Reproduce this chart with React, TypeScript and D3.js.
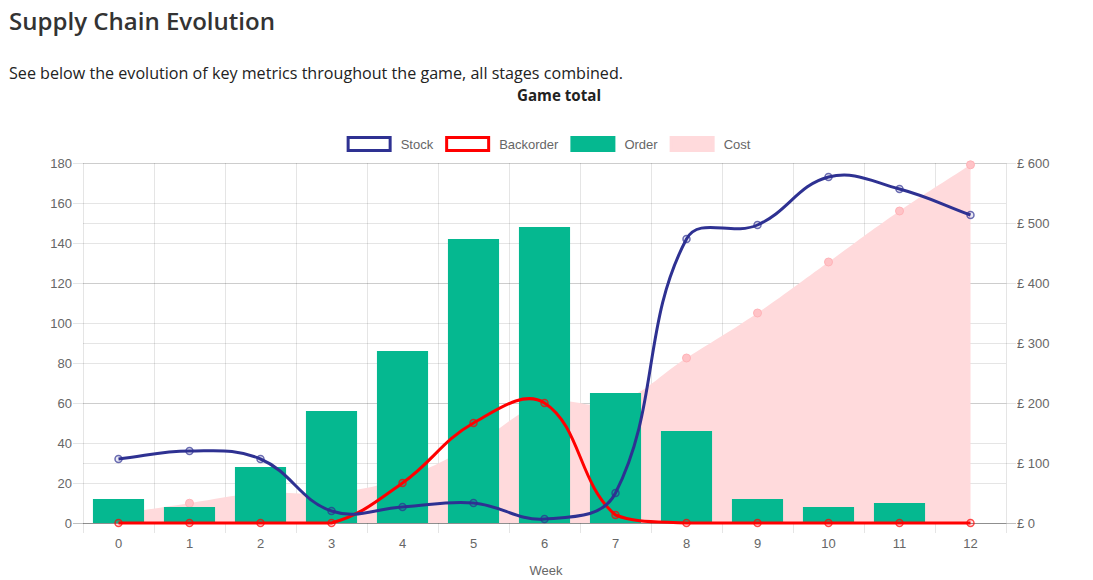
import React from "react";
import * as d3 from "d3";

const weeks = [0, 1, 2, 3, 4, 5, 6, 7, 8, 9, 10, 11, 12];
const stock = [32, 36, 32, 6, 8, 10, 2, 15, 142, 149, 173, 167, 154];
const backorder = [0, 0, 0, 0, 20, 50, 60, 4, 0, 0, 0, 0, 0];
const orders = [12, 8, 28, 56, 86, 142, 148, 65, 46, 12, 8, 10, 0];
const cost = [15, 33, 50, 50, 75, 130, 200, 200, 275, 350, 435, 520, 597];
const leftTicks = [0, 20, 40, 60, 80, 100, 120, 140, 160, 180];
const rightTicks = [0, 100, 200, 300, 400, 500, 600];
const legendItems = ["Stock", "Backorder", "Order", "Cost"];

const W = 1093;
const H = 580;
const area = { left: 83, right: 1006, top: 163, bottom: 523 };
const CHART_FONT = "'Liberation Sans', Arial, sans-serif";
const PAGE_FONT = "'Open Sans', 'Noto Sans', sans-serif";
const FS = 13;

const STOCK_C = "#2e3192";
const BACK_C = "#ff0000";
const ORDER_C = "#05b890";
const COST_C = "#ffdadc";
const COST_PT = "#ffc3c7";

type P = { x: number; y: number };

// Chart.js-like bezier spline with tension 0.4 and capped control points
function splinePath(pts: P[], t = 0.4): string {
  const n = pts.length;
  const cps = pts.map((cur, i) => {
    const prev = i === 0 ? cur : pts[i - 1];
    const next = i === n - 1 ? cur : pts[i + 1];
    const d01 = Math.hypot(cur.x - prev.x, cur.y - prev.y);
    const d12 = Math.hypot(next.x - cur.x, next.y - cur.y);
    let s01 = d01 / (d01 + d12);
    let s12 = d12 / (d01 + d12);
    if (isNaN(s01)) s01 = 0;
    if (isNaN(s12)) s12 = 0;
    const fa = t * s01;
    const fb = t * s12;
    const cap = (p: P) => ({
      x: Math.max(area.left, Math.min(area.right, p.x)),
      y: Math.max(area.top, Math.min(area.bottom, p.y)),
    });
    return {
      prev: cap({ x: cur.x - fa * (next.x - prev.x), y: cur.y - fa * (next.y - prev.y) }),
      next: cap({ x: cur.x + fb * (next.x - prev.x), y: cur.y + fb * (next.y - prev.y) }),
    };
  });
  const path = d3.path();
  path.moveTo(pts[0].x, pts[0].y);
  for (let i = 1; i < n; i++) {
    const a = cps[i - 1].next;
    const b = cps[i].prev;
    path.bezierCurveTo(a.x, a.y, b.x, b.y, pts[i].x, pts[i].y);
  }
  return path.toString();
}

function measure(text: string, font: string): number {
  if (typeof document === "undefined") return text.length * 7;
  const c = document.createElement("canvas");
  const ctx = c.getContext("2d");
  if (!ctx) return text.length * 7;
  ctx.font = font;
  return ctx.measureText(text).width;
}

export default function App() {
  const x = d3.scaleBand<number>().domain(weeks).range([area.left, area.right]).paddingInner(0).paddingOuter(0);
  const bw = x.bandwidth();
  const cx = (w: number) => (x(w) as number) + bw / 2;
  const yL = d3.scaleLinear().domain([0, 180]).range([area.bottom, area.top]);
  const yR = d3.scaleLinear().domain([0, 600]).range([area.bottom, area.top]);
  const px = (v: number) => Math.round(v) + 0.5;

  const stockPts = weeks.map((w, i) => ({ x: cx(w), y: yL(stock[i]) }));
  const backPts = weeks.map((w, i) => ({ x: cx(w), y: yL(backorder[i]) }));
  const costPts = weeks.map((w, i) => ({ x: cx(w), y: yR(cost[i]) }));
  const costLine = splinePath(costPts);
  const costArea =
    costLine +
    `L${costPts[costPts.length - 1].x},${yR(0)}L${costPts[0].x},${yR(0)}Z`;

  const barW = bw * 0.72;

  // legend layout
  const legendFont = `${FS}px ${CHART_FONT}`;
  const boxW = 45;
  const boxH = 13;
  const textGap = 9;
  const widths = legendItems.map((t) => boxW + textGap + measure(t, legendFont));
  const gap = 12;
  const totalW = widths.reduce((a, b) => a + b, 0) + gap * (legendItems.length - 1);
  let lx = 548.5 - totalW / 2;
  const legendX: number[] = [];
  widths.forEach((w) => {
    legendX.push(lx);
    lx += w + gap;
  });
  const legendY = 144;
  const legendStyles = [
    { fill: "#ffffff", stroke: STOCK_C },
    { fill: "#ffffff", stroke: BACK_C },
    { fill: ORDER_C, stroke: ORDER_C },
    { fill: COST_C, stroke: COST_C },
  ];

  const grid = "rgba(0,0,0,0.1)";
  const catLines = d3.range(weeks.length + 1).map((k) => area.left + k * bw);

  return (
    <svg
      width={W}
      height={H}
      style={{ position: "absolute", left: 0, top: 0, background: "#fff" }}
    >
      <text x={9} y={30} fontFamily={PAGE_FONT} fontSize={24} fontWeight={600} fill="#333" textLength={266} lengthAdjust="spacingAndGlyphs">
        Supply Chain Evolution
      </text>
      <text x={9} y={79} fontFamily={PAGE_FONT} fontSize={16} fill="#222" textLength={614} lengthAdjust="spacingAndGlyphs">
        See below the evolution of key metrics throughout the game, all stages combined.
      </text>
      <text x={559} y={101} fontFamily={PAGE_FONT} fontSize={16} fontWeight={700} fill="#222" textAnchor="middle" textLength={84} lengthAdjust="spacingAndGlyphs">
        Game total
      </text>

      {/* legend */}
      {legendItems.map((t, i) => (
        <g key={t}>
          <rect
            x={legendX[i] + 1.5}
            y={legendY - boxH / 2}
            width={boxW - 3}
            height={boxH}
            fill={legendStyles[i].fill}
            stroke={legendStyles[i].stroke}
            strokeWidth={3}
          />
          <text x={legendX[i] + boxW + textGap} y={legendY + 4.5} fontFamily={CHART_FONT} fontSize={FS} fill="#666">
            {t}
          </text>
        </g>
      ))}

      {/* vertical grid lines */}
      {catLines.map((lxv, i) => (
        <line key={"v" + i} x1={px(lxv)} x2={px(lxv)} y1={area.top} y2={area.bottom + 10} stroke={grid} strokeWidth={1} />
      ))}
      {/* left axis grid */}
      {leftTicks.map((v) => (
        <line
          key={"l" + v}
          x1={area.left - 10}
          x2={area.right}
          y1={px(yL(v))}
          y2={px(yL(v))}
          stroke={v === 0 ? "rgba(0,0,0,0.25)" : grid}
          strokeWidth={1}
        />
      ))}
      {/* right axis grid */}
      {rightTicks.map((v) => (
        <line
          key={"r" + v}
          x1={area.left}
          x2={area.right + 10}
          y1={px(yR(v))}
          y2={px(yR(v))}
          stroke={v === 0 ? "rgba(0,0,0,0.25)" : grid}
          strokeWidth={1}
        />
      ))}

      {/* tick labels */}
      {leftTicks.map((v) => (
        <text key={"lt" + v} x={area.left - 11} y={yL(v) + 4.5} textAnchor="end" fontFamily={CHART_FONT} fontSize={FS} fill="#666">
          {v}
        </text>
      ))}
      {rightTicks.map((v) => (
        <text key={"rt" + v} x={area.right + 11} y={yR(v) + 4.5} textAnchor="start" fontFamily={CHART_FONT} fontSize={FS} fill="#666">
          {"£ " + v}
        </text>
      ))}
      {weeks.map((w) => (
        <text key={"xt" + w} x={cx(w)} y={548} textAnchor="middle" fontFamily={CHART_FONT} fontSize={FS} fill="#666">
          {w}
        </text>
      ))}
      <text x={546} y={575} textAnchor="middle" fontFamily={CHART_FONT} fontSize={FS} fill="#666">
        Week
      </text>

      {/* cost area */}
      <path d={costArea} fill={COST_C} stroke="none" />
      {costPts.map((p, i) => (
        <circle key={"cp" + i} cx={p.x} cy={p.y} r={4} fill={COST_PT} stroke="#ffb3b8" strokeWidth={1} />
      ))}

      {/* order bars */}
      {weeks.map((w, i) => (
        <rect
          key={"b" + w}
          x={cx(w) - barW / 2}
          y={yL(orders[i])}
          width={barW}
          height={yL(0) - yL(orders[i])}
          fill={ORDER_C}
        />
      ))}

      {/* backorder */}
      <path d={splinePath(backPts)} fill="none" stroke={BACK_C} strokeWidth={3} />
      {backPts.map((p, i) => (
        <circle key={"bp" + i} cx={p.x} cy={p.y} r={3.5} fill="rgba(255,0,0,0.1)" stroke="rgba(255,0,0,0.7)" strokeWidth={1.5} />
      ))}

      {/* stock */}
      <path d={splinePath(stockPts)} fill="none" stroke={STOCK_C} strokeWidth={3} />
      {stockPts.map((p, i) => (
        <circle key={"sp" + i} cx={p.x} cy={p.y} r={3.5} fill="rgba(46,49,146,0.1)" stroke="rgba(46,49,146,0.7)" strokeWidth={1.5} />
      ))}
    </svg>
  );
}
